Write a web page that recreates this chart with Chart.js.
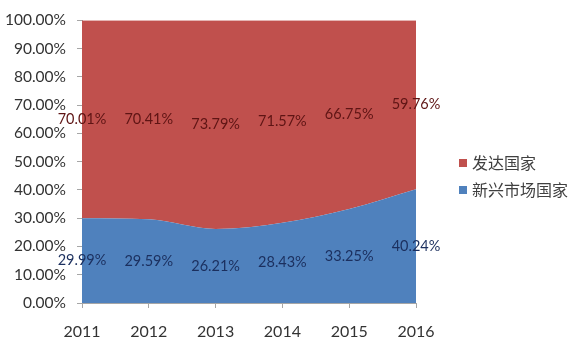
<!DOCTYPE html>
<html>
<head>
<meta charset="utf-8">
<script src="https://cdn.jsdelivr.net/npm/chart.js@4/dist/chart.umd.min.js"></script>
<style>
  html, body { margin: 0; padding: 0; background: #fff; }
  #wrap { position: relative; width: 577px; height: 349px; }
  #legenda { position: absolute; left: 459px; top: 151px; font-family: 'Noto Sans CJK SC', sans-serif; font-size: 16px; color: #404040; }
  #legenda div { height: 27px; line-height: 22px; }
  #legenda span { display: inline-block; width: 8px; height: 8px; margin-right: 5px; vertical-align: 2px; }
</style>
</head>
<body>
<div id="wrap">
  <canvas id="grafico" width="577" height="349"></canvas>
  <div id="legenda"></div>
</div>
<script>
const anos = ['2011', '2012', '2013', '2014', '2015', '2016'];
const emergentes = [29.99, 29.59, 26.21, 28.43, 33.25, 40.24];
const desenvolvidos = [70.01, 70.41, 73.79, 71.57, 66.75, 59.76];
const nomesSeries = ['新兴市场国家', '发达国家'];

const cores = {
    azul: '#4F81BD',
    vermelho: '#C0504D',
    textoAzul: '#1B2F5E',
    textoVermelho: '#5E1414',
    eixo: '#A6A6A6',
    texto: '#333333'
};

const fonteTexto = "'Lato', 'Open Sans', sans-serif";

// rotulos no meio de cada faixa
const rotulosNoMeio = {
    id: 'rotulosNoMeio',
    afterDatasetsDraw(chart) {
        const ctx = chart.ctx;
        const y = chart.scales.y;
        const x = chart.scales.x;
        const corDoTexto = [cores.textoAzul, cores.textoVermelho];
        ctx.save();
        ctx.font = '14.5px ' + fonteTexto;
        ctx.textAlign = 'center';
        ctx.textBaseline = 'middle';
        anos.forEach((ano, i) => {
            let base = 0;
            chart.data.datasets.forEach((ds, d) => {
                const v = ds.data[i];
                const px = x.getPixelForValue(i);
                const py = y.getPixelForValue(base + v / 2);
                ctx.fillStyle = corDoTexto[d];
                ctx.fillText(v.toFixed(2) + '%', px, py);
                base += v;
            });
        });
        ctx.restore();
    }
};

const ctxGrafico = document.getElementById('grafico');
new Chart(ctxGrafico, {
    type: 'line',
    data: {
        labels: anos,
        datasets: [{
            label: nomesSeries[0],
            data: emergentes,
            backgroundColor: cores.azul,
            borderWidth: 0,
            pointRadius: 0,
            fill: 'origin',
            tension: 0.4,
            cubicInterpolationMode: 'monotone'
        }, {
            label: nomesSeries[1],
            data: desenvolvidos,
            backgroundColor: cores.vermelho,
            borderWidth: 0,
            pointRadius: 0,
            fill: '-1',
            tension: 0.4,
            cubicInterpolationMode: 'monotone'
        }]
    },
    options: {
        responsive: false,
        animation: false,
        layout: {
            padding: { top: 16, right: 161, left: 0, bottom: 0 }
        },
        plugins: {
            legend: { display: false },
            tooltip: { enabled: false }
        },
        scales: {
            x: {
                offset: false,
                grid: { display: true, drawOnChartArea: false, color: cores.eixo, tickLength: 5 },
                border: { display: true, color: cores.eixo },
                ticks: { color: cores.texto, padding: 14, maxRotation: 0, font: { family: fonteTexto, size: 16 } },
                afterFit(s) { s.height = 46; }
            },
            y: {
                stacked: true,
                min: 0,
                max: 100,
                grid: { display: true, drawOnChartArea: false, color: cores.eixo, tickLength: 5 },
                border: { display: true, color: cores.eixo },
                ticks: {
                    stepSize: 10,
                    color: cores.texto,
                    padding: 11,
                    font: { family: fonteTexto, size: 15.5 },
                    callback: v => v.toFixed(2) + '%'
                },
                afterFit(s) { s.width = 82; }
            }
        }
    },
    plugins: [rotulosNoMeio]
});

const legenda = document.getElementById('legenda');
[[nomesSeries[1], cores.vermelho], [nomesSeries[0], cores.azul]].forEach(([nome, cor]) => {
    const linha = document.createElement('div');
    linha.innerHTML = '<span style="background:' + cor + '"></span>' + nome;
    legenda.appendChild(linha);
});
</script>
</body>
</html>
